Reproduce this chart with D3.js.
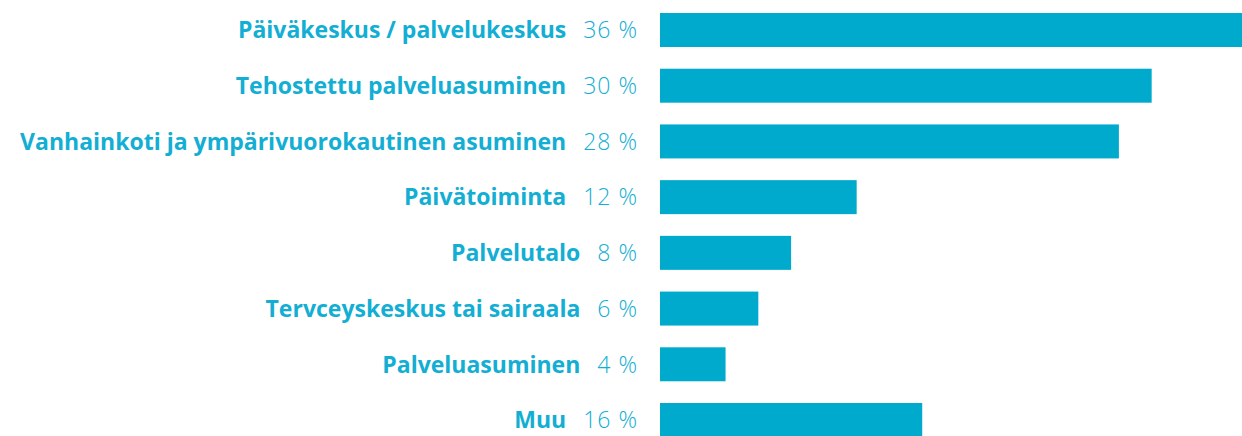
<!DOCTYPE html>
<html>
<head>
<meta charset="utf-8">
<script src="https://cdn.jsdelivr.net/npm/d3@7"></script>
<style>
  body { margin: 0; background: #fff; }
  .row { font-family: "Open Sans", sans-serif; font-size: 23px; fill: #12aed3; }
  .label { font-weight: 700; }
  .value { font-weight: 300; letter-spacing: 1px; }
</style>
</head>
<body>
<div id="chart"></div>
<script>
// data
const categories = [
  "Päiväkeskus / palvelukeskus",
  "Tehostettu palveluasuminen",
  "Vanhainkoti ja ympärivuorokautinen asuminen",
  "Päivätoiminta",
  "Palvelutalo",
  "Tervceyskeskus tai sairaala",
  "Palveluasuminen",
  "Muu"
]
const values = [36, 30, 28, 12, 8, 6, 4, 16]

// set svg
var width = 1242,
    height = 436

const svg = d3.select("#chart")
  .append("svg")
    .attr("width", width)
    .attr("height", height)

// scales
const x = d3.scaleLinear()
    .domain([0, 36])
    .range([660, 1250])

const y = d3.scaleBand()
    .domain(categories)
    .range([13, 437])
    .paddingInner(0.39)
    .paddingOuter(0)

// bars
svg.append("g")
  .selectAll("rect")
  .data(values)
  .join("rect")
    .attr("x", x(0))
    .attr("y", (d, i) => y(categories[i]))
    .attr("width", d => x(d) - x(0))
    .attr("height", y.bandwidth())
    .attr("fill", "#00aacd")

// labels: category + value on one line, right aligned
const rows = svg.append("g")
  .selectAll("text")
  .data(categories)
  .join("text")
    .attr("class", "row")
    .attr("x", 638)
    .attr("y", d => y(d) + y.bandwidth() / 2)
    .attr("dy", "0.36em")
    .attr("text-anchor", "end")

rows.append("tspan")
    .attr("class", "label")
    .text(d => d)

rows.append("tspan")
    .attr("class", "value")
    .attr("dx", 17)
    .text((d, i) => values[i] + " %")
</script>
</body>
</html>
